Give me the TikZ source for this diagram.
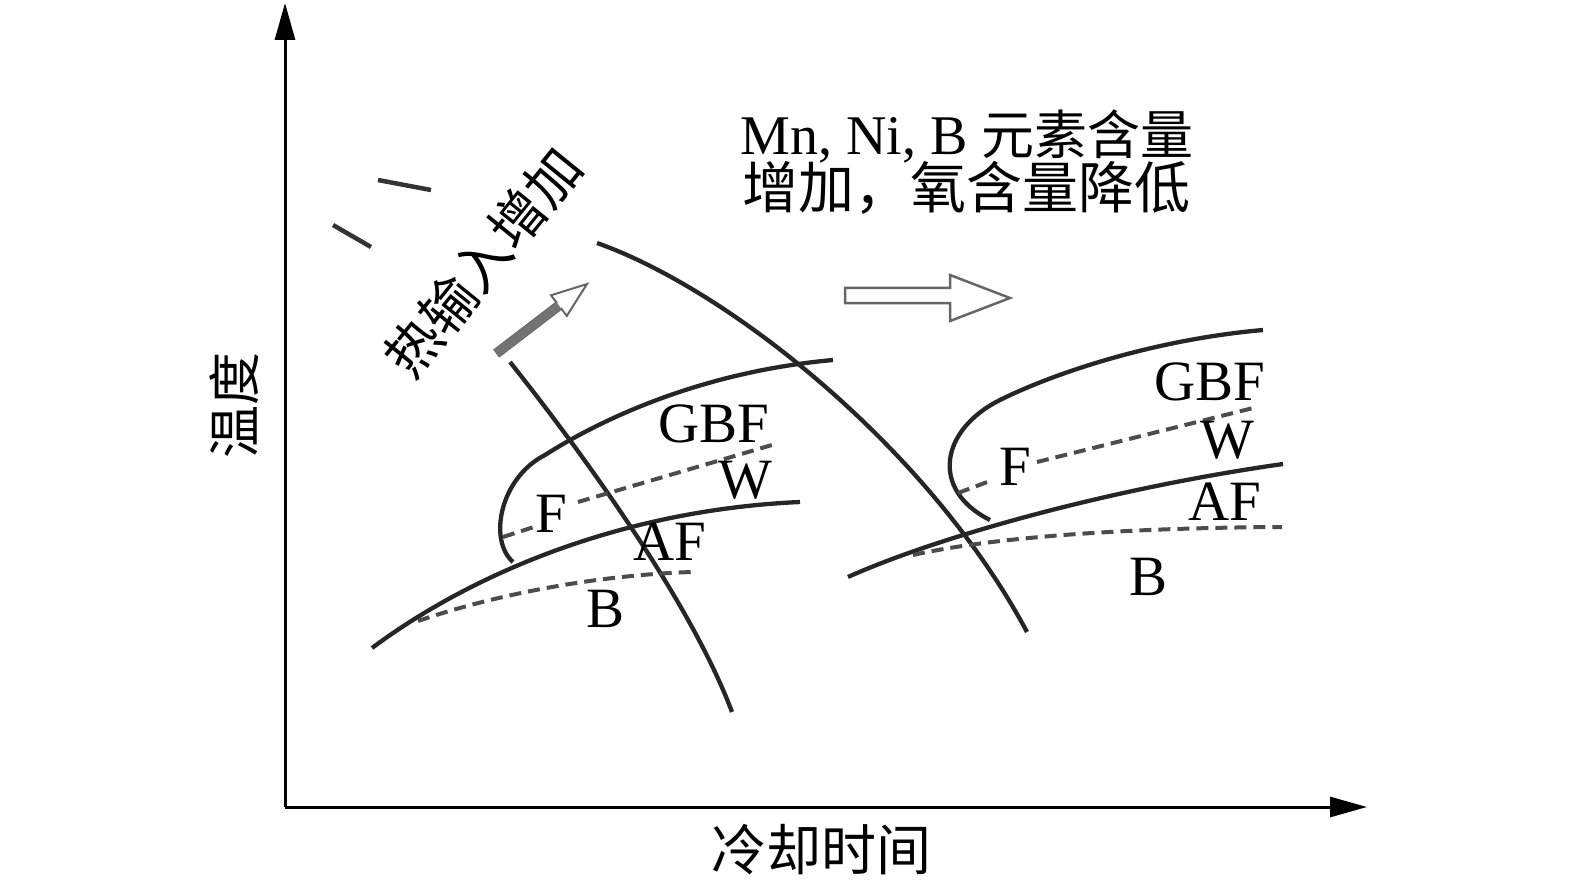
\documentclass[tikz,border=0pt]{standalone}
\usepackage{fontspec}
\setmainfont{Liberation Serif}
\newfontfamily\cjk{Noto Sans CJK SC}
\usetikzlibrary{arrows.meta}
\tikzset{
  axis/.style={line width=3pt, -{Triangle[length=37pt,width=20pt]}},
  curve/.style={line width=4.3pt, color=black!85},
  dashcurve/.style={line width=4pt, color=black!70, dash pattern=on 12pt off 7pt},
  hollow/.style={line width=2.5pt, draw=black!60, fill=white, line join=miter},
  lbl/.style={font=\fontsize{57}{60}\selectfont, inner sep=0pt, anchor=base},
  cjklbl/.style={font=\cjk\fontsize{53}{56}\selectfont, inner sep=0pt},
  tick/.style={line width=4.5pt, color=black!80}
}
\begin{document}
\begin{tikzpicture}[x=1pt,y=-1pt]
\useasboundingbox (0,0) rectangle (1575,896);
% axes
\coordinate (O) at (285,807);
\coordinate (Ytop) at (285,3);
\coordinate (Xend) at (1367,807);
\draw[axis] (O) -- (Ytop);
\draw[axis] (O) -- (Xend);
\node[cjklbl, rotate=90] (ylab) at (234,405) {温度};
\node[cjklbl, font=\cjk\fontsize{55}{58}\selectfont] (xlab) at (821,850) {冷却时间};
% top text
\node[lbl, font=\fontsize{56}{60}\selectfont] (top1a) at (967,155) {Mn, Ni, B {\cjk\fontsize{53}{56}\selectfont 元素含量}};
\node[cjklbl, font=\cjk\fontsize{56}{58}\selectfont] (top2) at (966,188) {增加，氧含量降低};
\node[cjklbl, font=\cjk\fontsize{55}{58}\selectfont, rotate=51] (heat) at (483,262) {热输入增加};
% short strokes top-left
\draw[tick] (378,180) -- (431,190);
\draw[tick] (333,225) -- (371,247);
% diagonal hollow arrow
\draw[hollow, line width=2pt] (499.4,356.2) -- (561.3,308.8) -- (566.8,315.9) -- (587,284) -- (551.0,295.3) -- (556.5,302.4) -- (494.6,349.8) -- cycle;
\fill[black!55] (499.4,356.2) -- (561.3,308.8) -- (556.5,302.4) -- (494.6,349.8) -- cycle;
% right hollow arrow
\draw[hollow] (845,288) -- (950,288) -- (950,275) -- (1010,298) -- (950,321) -- (950,303) -- (845,303) -- cycle;
% ---- left group
\draw[curve] (510,362) .. controls (580,450) and (690,600) .. (732,712);
\draw[curve] (833,360) .. controls (700,372) and (600,420) .. (545,455) .. controls (500,478) and (488,540) .. (513,562);
\draw[curve] (372,648) .. controls (470,575) and (620,510) .. (800,502);
\draw[dashcurve] (503,537) -- (537,526);
\draw[dashcurve] (578,502) -- (772,445);
\draw[dashcurve] (418,621) .. controls (500,593) and (600,575) .. (692,572);
\node[lbl] (gbf1) at (714,442) {GBF};
\node[lbl] (w1) at (745,498) {W};
\node[lbl] (f1) at (551,532) {F};
\node[lbl] (af1) at (670,560) {AF};
\node[lbl] (b1) at (606,627) {B};
% ---- right group
\draw[curve] (597,243) .. controls (730,290) and (930,450) .. (1027,632);
\draw[curve] (1263,330) .. controls (1150,340) and (1050,375) .. (1000,400) .. controls (940,430) and (930,490) .. (990,520);
\draw[curve] (848,577) .. controls (930,540) and (1100,490) .. (1283,464);
\draw[dashcurve] (958,493) -- (990,481);
\draw[dashcurve] (1037,462) -- (1253,408);
\draw[dashcurve] (913,555) .. controls (980,540) and (1100,528) .. (1282,527);
\node[lbl] (gbf2) at (1210,400) {GBF};
\node[lbl] (w2) at (1227,458) {W};
\node[lbl] (f2) at (1015,485) {F};
\node[lbl] (af2) at (1225,520) {AF};
\node[lbl] (b2) at (1148,595) {B};
\end{tikzpicture}
\end{document}
